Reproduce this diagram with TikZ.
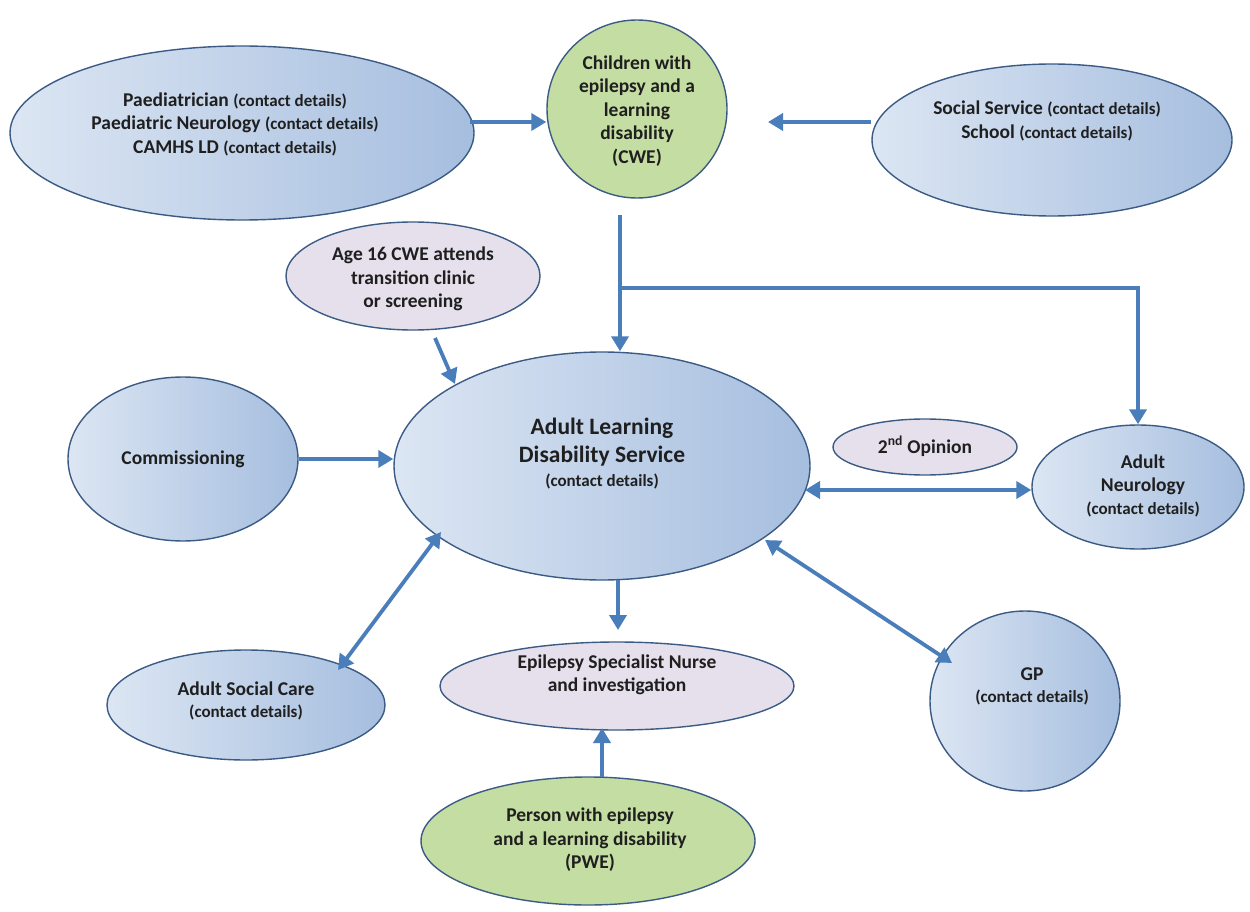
\documentclass[tikz,border=0pt]{standalone}
\usepackage{fontspec}
\setmainfont{Carlito}
\usetikzlibrary{shapes.geometric,arrows.meta,calc}
\definecolor{arrowblue}{HTML}{4A7EBB}
\definecolor{edgeblue}{HTML}{3B5B85}
\definecolor{lightblue}{HTML}{DCE6F3}
\definecolor{darkfill}{HTML}{A6BEDF}
\definecolor{greenfill}{HTML}{C4DDA2}
\definecolor{lavfill}{HTML}{E5E0EC}
\newcommand{\mtxt}{\fontsize{19.5}{23.5}\selectfont\bfseries}
\newcommand{\stxt}{\fontsize{17}{20}\selectfont\bfseries}
\begin{document}
\begin{tikzpicture}[x=1pt,y=-1pt,
  ellbase/.style={ellipse,draw=edgeblue,line width=1.4pt,inner sep=0pt},
  blueell/.style={ellbase,left color=lightblue,right color=darkfill},
  greenell/.style={ellbase,fill=greenfill},
  lavell/.style={ellbase,fill=lavfill},
  txt/.style={align=center,inner sep=0pt,font=\mtxt,text=black!88},
  arr/.style={draw=arrowblue,line width=3.8pt,-{Triangle[length=15pt,width=17pt]}},
  darr/.style={draw=arrowblue,line width=3.8pt,{Triangle[length=15pt,width=17pt]}-{Triangle[length=15pt,width=17pt]}}
]
\useasboundingbox[fill=white] (0,0) rectangle (1250,912);

% shapes
\node[blueell,minimum width=464pt,minimum height=174pt] (pd) at (242,133) {};
\node[greenell,minimum width=180pt,minimum height=178pt] (cwe) at (637,109) {};
\node[blueell,minimum width=360pt,minimum height=152pt] (ss) at (1052,140) {};
\node[lavell,minimum width=254pt,minimum height=108pt] (age) at (413,276) {};
\node[blueell,minimum width=230pt,minimum height=164pt] (com) at (183,459) {};
\node[blueell,minimum width=416pt,minimum height=228pt] (alds) at (602,466) {};
\node[lavell,minimum width=184pt,minimum height=56pt] (sec) at (925,447) {};
\node[blueell,minimum width=212pt,minimum height=124pt] (an) at (1138,487) {};
\node[blueell,minimum width=278pt,minimum height=110pt] (asc) at (246,705) {};
\node[lavell,minimum width=354pt,minimum height=88pt] (esn) at (617,686) {};
\node[blueell,minimum width=190pt,minimum height=180pt] (gp) at (1025,701) {};
\node[greenell,minimum width=334pt,minimum height=128pt] (pwe) at (588,841) {};

% texts
\node[txt] (pdt) at (235,124) {Paediatrician {\stxt (contact details)}\\Paediatric Neurology {\stxt (contact details)}\\CAMHS LD {\stxt (contact details)}};
\node[txt] (cwet) at (637,111) {Children with\\epilepsy and a\\learning\\disability\\(CWE)};
\node[txt] (sst) at (1047,121) {Social Service {\stxt (contact details)}\\School {\stxt (contact details)}};
\node[txt] (aget) at (413,279) {Age 16 CWE attends\\transition clinic\\or screening};
\node[txt] (comt) at (183,459) {Commissioning};
\node[txt,font=\fontsize{23.5}{28}\selectfont\bfseries] (aldst) at (602,442) {Adult Learning\\Disability Service};
\node[txt,font=\stxt] (aldsc) at (602,481) {(contact details)};
\node[txt] (sect) at (925,446) {2\textsuperscript{nd} Opinion};
\node[txt] (ant) at (1143,475) {Adult\\Neurology};
\node[txt,font=\stxt] (anc) at (1143,509) {(contact details)};
\node[txt] (asct) at (246,689) {Adult Social Care};
\node[txt,font=\stxt] (ascc) at (246,712) {(contact details)};
\node[txt] (esnt) at (617,675) {Epilepsy Specialist Nurse\\and investigation};
\node[txt] (gpt) at (1032,674) {GP};
\node[txt,font=\stxt] (gpc) at (1032,697) {(contact details)};
\node[txt] (pwet) at (590,840) {Person with epilepsy\\and a learning disability\\(PWE)};

% connector points
\coordinate (p1) at (470,122);
\coordinate (p2) at (768,122);
\coordinate (c1) at (620,215);
\coordinate (c2) at (620,288);
\coordinate (g1) at (435,338);
\coordinate (g2) at (455,384);
\coordinate (n1) at (805,490);
\coordinate (s1) at (441,532);
\coordinate (s2) at (338,670);
\coordinate (e1) at (618,580);
\coordinate (e2) at (618,630);
\coordinate (q1) at (765,540);
\coordinate (q2) at (952,663);
\coordinate (w1) at (602,777);
\coordinate (w2) at (602,728);

% connectors
\draw[arr] (p1) -- (cwe.west |- p1);
\draw[arr] (ss.west |- p2) -- (p2);
\draw[arr] (c1) -- (alds.north -| c1);
\draw[arr] (c2) -| (an.north);
\draw[arr] (g1) -- (g2);
\draw[arr] (com.east) -- (alds.west |- com.east);
\draw[darr] (n1) -- (an.west |- n1);
\draw[darr] (s1) -- (s2);
\draw[arr] (e1) -- (e2);
\draw[darr] (q1) -- (q2);
\draw[arr] (w1) -- (w2);
\end{tikzpicture}
\end{document}
